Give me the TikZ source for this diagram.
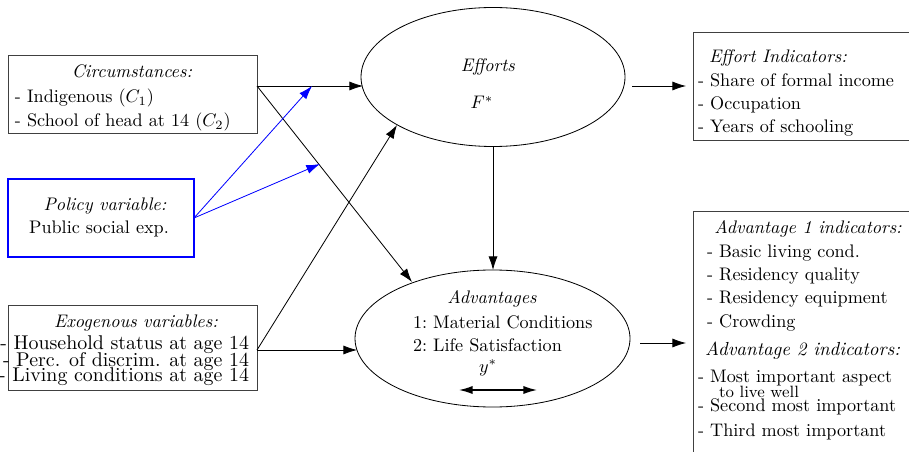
\documentclass[tikz,border=0pt]{standalone}
\usetikzlibrary{arrows.meta,shapes.geometric}
\begin{document}
\begin{tikzpicture}[x=0.55pt,y=-0.55pt,
 box/.style={draw=black!75, line width=0.5pt, rectangle, inner sep=0pt, outer sep=0pt, anchor=north west},
 ell/.style={draw, ellipse, inner sep=0pt, outer sep=0pt, line width=0.45pt},
 arr/.style={-{Latex[length=7.5pt,width=5pt]}, line width=0.45pt},
 barr/.style={arr, blue},
 txt/.style={inner sep=0pt, outer sep=0pt},
 big/.style={font=\fontsize{10.95}{12}\selectfont},
 mid2/.style={font=\fontsize{10.4}{12}\selectfont},
 sml/.style={font=\small},
]
\clip (0,0) rectangle (909,452);
\fill[white] (0,0) rectangle (909,452);

% boxes
\node[box, minimum width=249*0.55pt, minimum height=78*0.55pt] (circ) at (8,55) {};
\node[box, draw=blue, line width=1.6pt, minimum width=186*0.55pt, minimum height=78*0.55pt] (pol) at (8,179) {};
\node[box, minimum width=249*0.55pt, minimum height=85*0.55pt] (exo) at (8,305) {};
\node[box, minimum width=240*0.55pt, minimum height=108*0.55pt] (effind) at (693,32) {};
\node[box, minimum width=240*0.55pt, minimum height=260*0.55pt] (advind) at (693,211) {};

% ellipses
\node[ell, minimum width=264*0.55pt, minimum height=139*0.55pt] (eff) at (493,77) {};
\node[ell, minimum width=275*0.55pt, minimum height=137*0.55pt] (adv) at (492.5,338.5) {};

% circumstances text
\node[txt, anchor=base] (circT) at (132,78) {\textit{Circumstances:}};
\node[txt, anchor=base west] (circA) at (15,103) {- Indigenous ($C_1$)};
\node[txt, anchor=base west] (circB) at (15,127) {- School of head at 14 ($C_2$)};

% policy text
\node[txt, anchor=base] (polT) at (105,210) {\textit{Policy variable:}};
\node[txt, anchor=base] (polA) at (99,233) {Public social exp.};

% exogenous text
\node[txt, anchor=base] (exoT) at (136,327) {\textit{Exogenous variables:}};
\node[txt, big, anchor=base east] (exoA) at (249,349) {- Household status at age 14};
\node[txt, big, anchor=base east] (exoB) at (249,366) {- Perc. of discrim. at age 14};
\node[txt, big, anchor=base east] (exoC) at (249,381) {- Living conditions at age 14};

% efforts text
\node[txt, anchor=base] (effT) at (488,72) {\textit{Efforts}};
\node[txt, anchor=base] (effF) at (482,109) {$F^{*}$};

% advantages text
\node[txt, anchor=base] (advT) at (492,303) {\textit{Advantages}};
\node[txt, anchor=base west] (advA) at (413,328) {1:\ Material Conditions};
\node[txt, anchor=base west] (advB) at (413,351) {2:\ Life Satisfaction};
\node[txt, anchor=base] (advY) at (488,372) {$y^{*}$};
\coordinate (dl) at (459,390);
\coordinate (dr) at (537,390);
\draw[{Latex[length=7.5pt,width=4.5pt]}-{Latex[length=7.5pt,width=4.5pt]}, line width=0.8pt] (dl) -- (dr);

% effort indicators text
\node[txt, anchor=base] (eiT) at (778,63) {\textit{Effort Indicators:}};
\node[txt, anchor=base west] (eiA) at (698,87) {- Share of formal income};
\node[txt, anchor=base west] (eiB) at (698,110) {- Occupation};
\node[txt, anchor=base west] (eiC) at (698,133) {- Years of schooling};

% advantage indicators text
\node[txt, anchor=base] (aiT) at (808,233) {\textit{Advantage 1 indicators:}};
\node[txt, anchor=base west] (aiA) at (707,257) {- Basic living cond.};
\node[txt, anchor=base west] (aiB) at (707,280) {- Residency quality};
\node[txt, anchor=base west] (aiC) at (707,303) {- Residency equipment};
\node[txt, anchor=base west] (aiD) at (707,327) {- Crowding};
\node[txt, mid2, anchor=base west] (aiT2) at (705,355) {\textit{Advantage 2 indicators:}};
\node[txt, anchor=base west] (aiE) at (698,382) {- Most important aspect};
\node[txt, sml, anchor=base west] (aiE2) at (719,397) {to live well};
\node[txt, anchor=base west] (aiF) at (698,411) {- Second most important};
\node[txt, anchor=base west] (aiG) at (698,436) {- Third most important};

% connector end points
\coordinate (c0) at (257,86);
\coordinate (x0) at (257,350);
\coordinate (effL) at (363,86);
\coordinate (effLL) at (397,125);
\coordinate (advUL) at (412,282);
\coordinate (advL) at (357,350);
\coordinate (polT1) at (312,86);
\coordinate (polT2) at (320,164);
\coordinate (effR) at (632,86);
\coordinate (eiL) at (686,86);
\coordinate (advR) at (640,343);
\coordinate (aiL) at (686,343);

% connectors
\draw[arr] (c0) -- (effL);
\draw[arr] (c0) -- (advUL);
\draw[barr] (pol.east) -- (polT1);
\draw[barr] (pol.east) -- (polT2);
\draw[arr] (x0) -- (effLL);
\draw[arr] (x0) -- (advL);
\draw[arr] (eff.south) -- (eff.south |- adv.north);
\draw[arr] (effR) -- (eiL);
\draw[arr] (advR) -- (aiL);
\end{tikzpicture}
\end{document}
